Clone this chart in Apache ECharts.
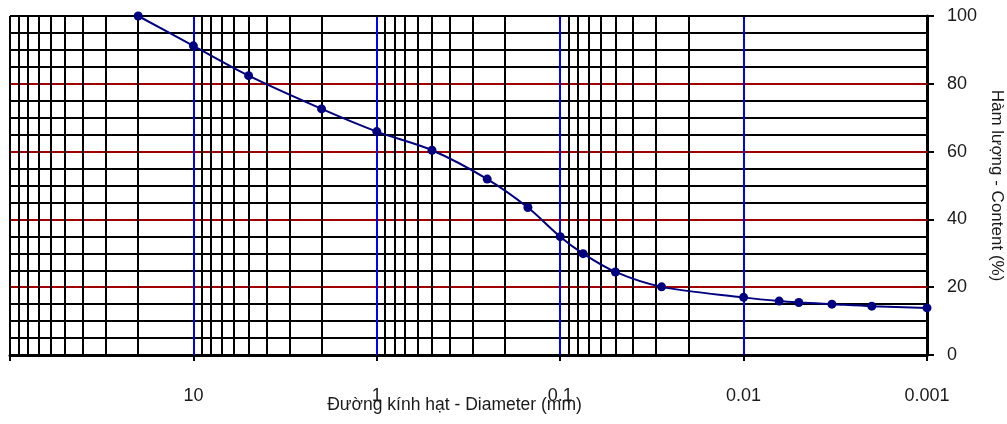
<!DOCTYPE html>
<html>
<head>
<meta charset="utf-8">
<script src="https://cdn.jsdelivr.net/npm/echarts@6/dist/echarts.min.js"></script>
<style>
  html, body { margin: 0; padding: 0; background: #fff; }
  #chart { width: 1007px; height: 424px; }
</style>
</head>
<body>
<div id="chart"></div>
<script>
// Grain size distribution: passing content (%) against particle diameter (mm)
const diameters = [20, 10, 5, 2, 1, 0.5, 0.25, 0.15, 0.1, 0.075, 0.05, 0.028, 0.01, 0.0064, 0.005, 0.0033, 0.002, 0.001];
const contents  = [100, 91.2, 82.4, 72.6, 65.9, 60.4, 51.9, 43.5, 34.9, 29.9, 24.5, 20.1, 17.0, 15.9, 15.5, 15.0, 14.4, 13.9];

// Axis labels (x: by decade exponent -3..1; the 100 mm edge is left blank)
const xTickLabels = { '-3': '0.001', '-2': '0.01', '-1': '0.1', '0': '1', '1': '10' };
const yTickLabels = ['0', '20', '40', '60', '80', '100'];

// Grid definition
const decades = [0.001, 0.01, 0.1, 1, 10];
const minorSteps = [2, 3, 4, 5, 6, 7, 8, 9];
const contentSteps = [5, 10, 15, 20, 25, 30, 35, 40, 45, 50, 55, 60, 65, 70, 75, 80, 85, 90, 95];
const xMin = 0.001, xMax = 100;

const FONT = 'Liberation Sans, Arial, sans-serif';
const TEXT = '#1a1a1a';

const gridLines = [];
// horizontal content lines: red every 20 %, black otherwise
contentSteps.forEach(v => {
  const major = v % 20 === 0;
  gridLines.push({ yAxis: v, lineStyle: { color: major ? '#a00000' : '#000', width: 2, type: 'solid' } });
});
// vertical lines at 2..9 within each decade
decades.forEach(d => {
  minorSteps.forEach(k => {
    gridLines.push({ xAxis: +(d * k).toPrecision(6), lineStyle: { color: '#000', width: 2, type: 'solid' } });
  });
});
// decade lines in blue
decades.slice(1).forEach(d => {
  gridLines.push({ xAxis: d, lineStyle: { color: '#0000ff', width: 2, type: 'solid' } });
});
// plot frame on the open sides
gridLines.push({ xAxis: xMax, lineStyle: { color: '#000', width: 2, type: 'solid' } });
gridLines.push({ yAxis: 100, lineStyle: { color: '#000', width: 2, type: 'solid' } });

const chart = echarts.init(document.getElementById('chart'), null, { renderer: 'canvas' });

chart.setOption({
  animation: false,
  backgroundColor: '#fff',
  grid: { left: 10, right: 80, top: 16, bottom: 69, containLabel: false, outerBoundsMode: 'none' },
  xAxis: {
    type: 'log',
    logBase: 10,
    min: xMin,
    max: xMax,
    inverse: true,
    name: 'Đường kính hạt - Diameter (mm)',
    nameLocation: 'middle',
    nameGap: 41,
    nameMoveOverlap: false,
    nameTextStyle: { fontFamily: FONT, fontSize: 17.5, color: TEXT, padding: [0, 28, 0, 0] },
    axisLine: { show: true, onZero: false, lineStyle: { color: '#000', width: 3 } },
    axisTick: { show: true, length: 6, lineStyle: { color: '#000', width: 2 } },
    axisLabel: {
      margin: 32,
      fontFamily: FONT,
      fontSize: 18,
      color: TEXT,
      formatter: v => xTickLabels[String(Math.round(Math.log10(v)))] || ''
    },
    splitLine: { show: false },
    minorTick: { show: false }
  },
  yAxis: {
    type: 'value',
    position: 'right',
    min: 0,
    max: 100,
    interval: 20,
    name: 'Hàm lượng - Content (%)',
    nameLocation: 'middle',
    nameRotate: -90,
    nameGap: 61,
    nameMoveOverlap: false,
    nameTextStyle: { fontFamily: FONT, fontSize: 17, color: TEXT },
    axisLine: { show: true, lineStyle: { color: '#000', width: 3 } },
    axisTick: { show: true, inside: false, length: 7, lineStyle: { color: '#000', width: 2 } },
    axisLabel: {
      margin: 20,
      fontFamily: FONT,
      fontSize: 18,
      color: TEXT,
      formatter: v => yTickLabels[Math.round(v / 20)]
    },
    splitLine: { show: false }
  },
  series: [{
    type: 'line',
    data: diameters.map((d, i) => [d, contents[i]]),
    smooth: 0.3,
    symbol: 'circle',
    symbolSize: 9,
    itemStyle: { color: '#000080' },
    lineStyle: { color: '#000080', width: 2 },
    z: 3,
    markLine: {
      silent: true,
      z: 1,
      symbol: ['none', 'none'],
      label: { show: false },
      emphasis: { disabled: true },
      animation: false,
      data: gridLines
    }
  }]
});
</script>
</body>
</html>
